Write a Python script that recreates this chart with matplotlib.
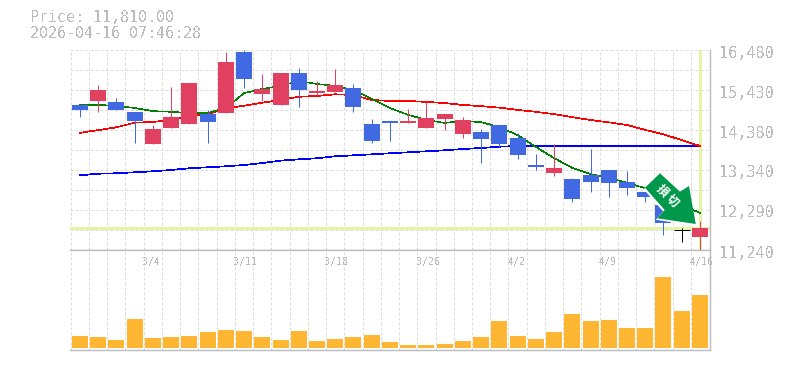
import numpy as np
import matplotlib
matplotlib.use('Agg')
import matplotlib.pyplot as plt
from matplotlib.patches import Polygon

# Candle data
opens = [15050, 15140, 15120, 14860, 14020, 14440, 14540, 14800, 14830, 16430, 15330, 15040,
         15880, 15350, 15380, 15480, 14540, 14620, 14570, 14440, 14670, 14280, 14330, 14520,
         14170, 13470, 13260, 13100, 13210, 13340, 13020, 12760, 12420, 11760, 11580]
highs = [15050, 15560, 15220, 14860, 14520, 15510, 15620, 14910, 16430, 16480, 15850, 15880,
         16010, 15670, 15980, 15590, 14670, 14620, 14930, 15120, 14800, 14730, 14410, 14520,
         14310, 13760, 14020, 13130, 13890, 13340, 13310, 12760, 12420, 11810, 12000]
lows = [14725, 14860, 14910, 14040, 14020, 14440, 14540, 14040, 14830, 15480, 15140, 15040,
        14990, 15300, 15380, 14860, 14040, 14100, 14570, 14440, 14380, 14170, 13520, 13940,
        13620, 13340, 13180, 12500, 12760, 12630, 12680, 12500, 11630, 11450, 11240]
closes = [14910, 15430, 14910, 14620, 14410, 14730, 15620, 14590, 16170, 15720, 15460, 15880,
          15430, 15410, 15560, 14990, 14100, 14570, 14620, 14700, 14800, 14650, 14150, 14020,
          13730, 13410, 13390, 12580, 13020, 13000, 12860, 12630, 11950, 11760, 11810]

ma_short = [15050, 15040, 15020, 14960, 14880, 14860, 14830, 14830, 14960, 15350, 15460, 15540,
            15670, 15590, 15540, 15430, 15200, 14960, 14780, 14650, 14570, 14620, 14590, 14460,
            14250, 13940, 13650, 13390, 13230, 13130, 13000, 12860, 12680, 12420, 12210]
ma_mid = [14310, 14380, 14455, 14575, 14595, 14645, 14750, 14800, 14950, 15020, 15100, 15170,
          15255, 15275, 15320, 15300, 15170, 15145, 15145, 15120, 15090, 15040, 15010, 14970,
          14910, 14860, 14800, 14720, 14645, 14585, 14515, 14385, 14270, 14120, 13965]
ma_long = [13197, 13239, 13250, 13276, 13302, 13336, 13381, 13407, 13433, 13467, 13519, 13580,
           13616, 13643, 13695, 13721, 13747, 13774, 13800, 13826, 13852, 13886, 13912, 13946,
           13965, 13970, 13970, 13970, 13970, 13970, 13970, 13970, 13970, 13965, 13965]

volumes = [12, 11, 8, 29, 10, 11, 12, 16, 18, 17, 11, 8, 17, 7, 9, 11, 13, 6,
           3, 3, 4, 7, 11, 27, 12, 9, 16, 34, 27, 28, 20, 20, 71, 37, 53]

date_idx = [4, 9, 14, 19, 24, 29, 34]
date_labels = ['3/4', '3/11', '3/18', '3/26', '4/2', '4/9', '4/16']
price_ticks = [16480, 15430, 14380, 13340, 12290, 11240]
last_price = 11810

W, H = 785, 370
RED = '#e24060'
BLUE = '#4169e1'
GRAY = '#bcbcbc'
GRID = '#dcdcdc'
CROSS = '#e4f5a9'
MONO = 'DejaVu Sans Mono'
PX = 0.72  # one pixel in points


def box(x0, y0, x1, y1):
    # pixel box (y from top) to figure fractions
    return [x0 / W, 1 - y1 / H, (x1 - x0) / W, (y1 - y0) / H]


def px(x, y):
    return (x / W, 1 - y / H)


fig = plt.figure(figsize=(W / 100, H / 100), dpi=100, facecolor='white')
ax = fig.add_axes(box(70, 50, 710, 250))
vol = fig.add_axes(box(70, 250, 710, 350))

x = np.arange(len(closes))
xlim = (-0.543, 34.55)

for a in (ax, vol):
    a.set_xlim(xlim)
    a.set_xticks([])
    a.set_yticks([])
    for s in a.spines.values():
        s.set_color(GRAY)
        s.set_linewidth(1.0)
    a.spines['left'].set_visible(False)
    for g in x[:-1] + 0.5:
        a.axvline(g, color=GRID, lw=PX, ls=(0, (3, 2)), zorder=0)
    a.axvline(-0.5, color=GRID, lw=PX, ls=(0, (3, 2)), zorder=0)

ax.set_ylim(11240, 16480)
ax.spines['top'].set_visible(False)
for g in np.linspace(11240, 16480, 11)[1:]:
    ax.axhline(g, color=GRID, lw=PX, ls=(0, (3, 2)), zorder=0)

# crosshair on the last bar
ax.axvline(x[-1], color=CROSS, lw=2.2, zorder=1)
ax.axhline(last_price, color=CROSS, lw=2.2, zorder=1)

ax.plot(x, ma_long, color='#0000ff', lw=0.5, antialiased=False, zorder=2)
ax.plot(x, ma_mid, color='#ff0000', lw=0.5, antialiased=False, zorder=2)
ax.plot(x, ma_short, color='#008000', lw=0.4, antialiased=False, zorder=2)

# candles
for i in x:
    o, h, l, c = opens[i], highs[i], lows[i], closes[i]
    if c > o:
        col = RED
    elif c < o:
        col = BLUE
    else:
        col = 'black'
    ax.vlines(i, l, h, color=col, lw=PX, zorder=3)
    if c == o:
        ax.hlines(c, i - 0.44, i + 0.44, color=col, lw=PX, zorder=3)
    else:
        ax.bar(i, abs(c - o), bottom=min(o, c), width=0.877, color=col, lw=0, zorder=4)

vol.set_ylim(-2, 98)
vol.bar(x, volumes, width=0.877, color='#ffb733', lw=0, zorder=3)

# labels
for p in price_ticks:
    ax.annotate(f'{p:,}', (1, p), xycoords=('axes fraction', 'data'), xytext=(9, -3),
                textcoords='offset pixels', color=GRAY, family=MONO, fontsize=11,
                va='center', ha='left', annotation_clip=False, antialiased=False)
for i, lab in zip(date_idx, date_labels):
    vol.annotate(lab, (i, 1), xycoords=('data', 'axes fraction'), xytext=(-10.5, -12),
                 textcoords='offset pixels', color=GRAY, family=MONO, fontsize=7.2,
                 va='center', ha='left', annotation_clip=False, zorder=5, antialiased=False)

fig.text(*px(30, 18), f'Price: {last_price:,.2f}', color=GRAY, family=MONO, fontsize=10.8,
         va='center', antialiased=False)
fig.text(*px(30, 33), '2026-04-16 07:46:28', color=GRAY, family=MONO, fontsize=10.8,
         va='center', antialiased=False)

# green sell badge
arrow = [(660, 173.3), (680, 191.7), (689, 186), (695.7, 224), (657.3, 218.3), (664.7, 210), (645, 187.7)]
halo = [(a - 1.5, b + 1.5) for a, b in arrow]
fig.add_artist(Polygon([px(a, b) for a, b in halo], transform=fig.transFigure, fc='white', ec='none', zorder=6))
fig.add_artist(Polygon([px(a, b) for a, b in arrow], transform=fig.transFigure, fc='#00984a', ec='none', zorder=7))
for ch, (cx, cy) in zip('損切', [(661.7, 190.7), (671.7, 201.3)]):
    fig.text(*px(cx, cy), ch, color='white', family=['Noto Sans CJK JP', 'DejaVu Sans'], fontweight='bold',
             fontsize=8.5, rotation=-45, rotation_mode='anchor', ha='center', va='center', zorder=8)

fig.savefig('out.png', dpi=100)
